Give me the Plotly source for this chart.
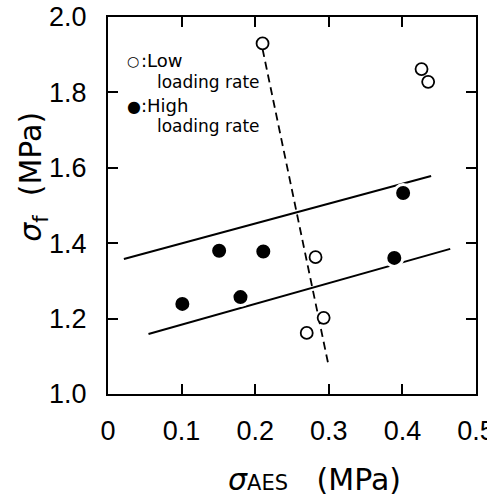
import plotly.graph_objects as go

# Fracture stress vs. AE-onset stress for two loading rates
low_x = [0.21, 0.426, 0.435, 0.282, 0.293, 0.270]
low_y = [1.93, 1.862, 1.828, 1.363, 1.202, 1.162]

high_x = [0.101, 0.151, 0.180, 0.211, 0.389, 0.401]
high_y = [1.239, 1.380, 1.257, 1.378, 1.361, 1.533]

# Band limits (solid) and low-rate trend (dashed), as end points
upper_x = [0.0216, 0.439]
upper_y = [1.358, 1.578]
lower_x = [0.055, 0.465]
lower_y = [1.159, 1.385]
trend_x = [0.210, 0.299]
trend_y = [1.915, 1.082]

x_ticks = [0, 0.1, 0.2, 0.3, 0.4, 0.5]
x_tick_text = ["0", "0.1", "0.2", "0.3", "0.4", "0.5"]
y_ticks = [1.0, 1.2, 1.4, 1.6, 1.8, 2.0]
y_tick_text = ["1.0", "1.2", "1.4", "1.6", "1.8", "2.0"]

TICK_FONT = "Liberation Sans, Arial, sans-serif"
TEXT_FONT = "DejaVu Sans, Liberation Sans, sans-serif"

fig = go.Figure()

line_style = dict(color="black", width=2)
fig.add_trace(go.Scatter(x=upper_x, y=upper_y, mode="lines", line=line_style, hoverinfo="skip"))
fig.add_trace(go.Scatter(x=lower_x, y=lower_y, mode="lines", line=line_style, hoverinfo="skip"))
fig.add_trace(go.Scatter(x=trend_x, y=trend_y, mode="lines",
                         line=dict(color="black", width=1.8, dash="8px,5px"), hoverinfo="skip"))

fig.add_trace(go.Scatter(
    x=low_x, y=low_y, mode="markers", name="Low loading rate",
    marker=dict(symbol="circle", size=12, color="white", line=dict(color="black", width=1.8)),
))
fig.add_trace(go.Scatter(
    x=high_x, y=high_y, mode="markers", name="High loading rate",
    marker=dict(symbol="circle", size=17, color="black", line=dict(color="white", width=3)),
))


def axis_style(**extra):
    style = dict(
        showgrid=False, zeroline=False, showline=True, linecolor="black", linewidth=2,
        mirror="ticks", ticks="inside", ticklen=10, tickwidth=2, tickcolor="black",
        automargin=False, ticklabeloverflow="allow",
        tickfont=dict(family=TICK_FONT, size=27, color="black"),
    )
    style.update(extra)
    return style


annotations = [
    # axis titles
    dict(text="<i>σ</i><sub>f</sub>  (MPa)", x=-0.205, y=0.575, xref="paper", yref="paper",
         textangle=-90, showarrow=False, xanchor="center", yanchor="middle",
         font=dict(family=TEXT_FONT, size=30, color="black")),
    dict(text="<i>σ</i><span style='font-size:21px'>AES</span>   (MPa)", x=0.56, y=-0.228,
         xref="paper", yref="paper", showarrow=False, xanchor="center", yanchor="middle",
         font=dict(family=TEXT_FONT, size=30, color="black")),
    # key
    dict(text="○", x=0.047, y=0.882, xref="paper", yref="paper", showarrow=False,
         xanchor="left", yanchor="middle", font=dict(family=TEXT_FONT, size=14, color="black")),
    dict(text=":Low", x=0.085, y=0.885, xref="paper", yref="paper", showarrow=False,
         xanchor="left", yanchor="middle", font=dict(family=TEXT_FONT, size=18, color="black")),
    dict(text="loading rate", x=0.127, y=0.828, xref="paper", yref="paper", showarrow=False,
         xanchor="left", yanchor="middle", font=dict(family=TEXT_FONT, size=17, color="black")),
    dict(text="●", x=0.047, y=0.762, xref="paper", yref="paper", showarrow=False,
         xanchor="left", yanchor="middle", font=dict(family=TEXT_FONT, size=16, color="black")),
    dict(text=":High", x=0.085, y=0.766, xref="paper", yref="paper", showarrow=False,
         xanchor="left", yanchor="middle", font=dict(family=TEXT_FONT, size=18, color="black")),
    dict(text="loading rate", x=0.127, y=0.71, xref="paper", yref="paper", showarrow=False,
         xanchor="left", yanchor="middle", font=dict(family=TEXT_FONT, size=17, color="black")),
]

fig.update_layout(
    width=487, height=496,
    autosize=False,
    margin=dict(l=108, r=11, t=17, b=102, pad=0),
    paper_bgcolor="white", plot_bgcolor="white",
    showlegend=False,
    xaxis=axis_style(range=[0, 0.5], tickvals=x_ticks, ticktext=x_tick_text,
                     ticklabelstandoff=12),
    yaxis=axis_style(range=[1.0, 2.0], tickvals=y_ticks, ticktext=y_tick_text,
                     ticklabelstandoff=14),
    annotations=annotations,
)

fig.write_html("out.html")
